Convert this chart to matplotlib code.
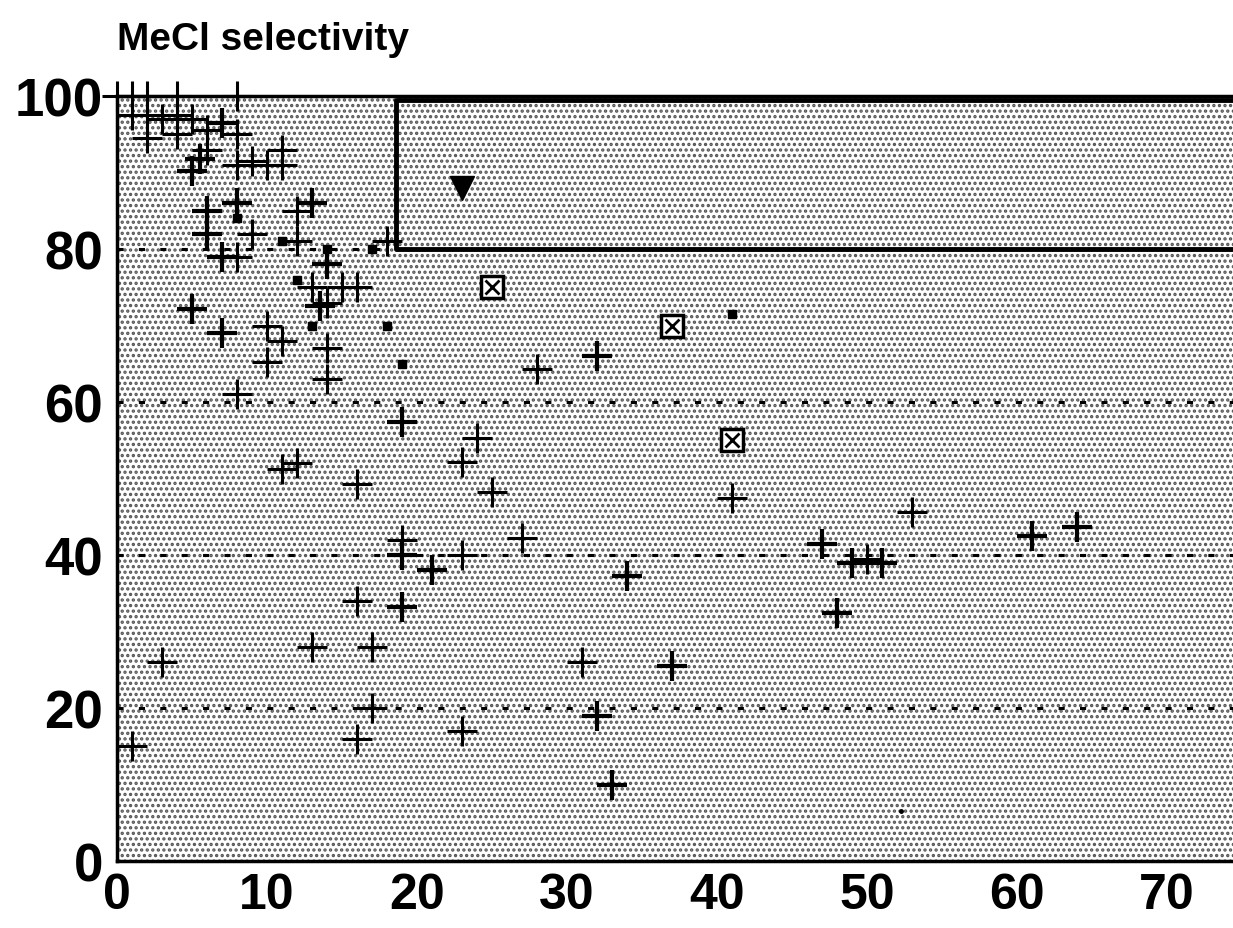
import matplotlib
matplotlib.use('Agg')
import matplotlib.pyplot as plt
from matplotlib.patches import Rectangle

plt.rcParams['font.family'] = ['Liberation Sans', 'DejaVu Sans']
plt.rcParams['font.weight'] = 'bold'
plt.rcParams['hatch.linewidth'] = 1.6

# plain "+" points (x, selectivity)
plain_x = [0, 1, 2, 4, 8, 1, 2, 4, 3, 5, 6, 2, 4, 8, 8, 9, 10, 11, 11, 6,
           12, 12, 9, 8, 18, 13, 15, 16, 14, 10, 11, 10, 14, 14, 8, 11, 12, 16,
           19, 23, 27, 23, 24, 25, 28, 41, 53, 50, 3, 1, 13, 17, 16, 16, 17, 23, 31]
plain_y = [100, 100, 100, 100, 100, 97.5, 97.5, 97.5, 97, 97, 95.5, 94.5, 95, 95, 91, 91.5, 91, 93, 91, 93,
           85, 81, 82, 79, 81, 75, 75, 75, 73, 70, 68, 65.2, 67, 63, 61, 51.2, 52, 49.3,
           42, 40, 42.2, 52.2, 55.3, 48.3, 64.3, 47.5, 45.6, 39.5, 26, 15, 28, 28, 34, 16, 20, 17, 26]

# "+" points printed with the beaded line
bead_x = [5, 5.5, 7, 6, 6, 8, 7, 13, 14, 13.5, 5, 7, 19, 19, 19, 21, 34, 32,
          32, 33, 37, 47, 48, 49, 51, 61, 64]
bead_y = [90.2, 91.8, 96.5, 85, 82, 86, 79, 86, 78, 72.5, 72.2, 69, 57.4, 40, 33.2, 38, 37.2, 66,
          19, 10, 25.5, 41.5, 32.4, 39, 39, 42.5, 43.6]

# small filled dots
dot_x = [8, 11, 17, 14, 12, 13, 18, 19, 41]
dot_y = [84, 81, 80, 80, 76, 70, 70, 65, 71.5]

# boxed crosses
box_x = [25, 37, 41]
box_y = [75, 70, 55]

# triangle
tri_x = [23]
tri_y = [88]

# target region
reg_x = [18.6, 75]
reg_y = [80, 99.5]

xticks = [0, 10, 20, 30, 40, 50, 60, 70]
yticks = [0, 20, 40, 60, 80, 100]
grid_y = [20, 40, 60, 80]

fig = plt.figure(figsize=(12.33, 9.29), dpi=100)
ax = fig.add_axes([117 / 1233, 67 / 929, 1125 / 1233, 765 / 929])
ax.set_xlim(0, 75)
ax.set_ylim(0, 100)

# stippled background
ax.add_patch(Rectangle((0, 0), 1, 1, transform=ax.transAxes, facecolor='white',
                       edgecolor='#555555', linewidth=0, hatch='...', zorder=0))

for gy in grid_y:
    ax.axhline(gy, color='black', lw=2.2, linestyle=(0, (2, 5)), zorder=1)

ax.plot([reg_x[1] + 1, reg_x[0], reg_x[0], reg_x[1] + 1],
        [reg_y[1], reg_y[1], reg_y[0], reg_y[0]], color='black', lw=3.5, zorder=2)

ax.plot(plain_x, plain_y, '+', color='black', ms=22, mew=2.2, clip_on=False, zorder=4)
ax.plot(bead_x, bead_y, '+', color='black', ms=21, mew=3.0, clip_on=False, zorder=4)
ax.plot(dot_x, dot_y, 's', color='black', ms=6, zorder=4)
ax.plot([52.3], [6.6], 'o', color='black', ms=2.5, zorder=4)
ax.plot(box_x, box_y, 's', mfc='white', mec='black', ms=16, mew=2.5, zorder=5)
ax.plot(box_x, box_y, 'x', color='black', ms=10, mew=2, zorder=6)
ax.plot(tri_x, tri_y, 'v', color='black', ms=17, zorder=5)

for side in ['left', 'top', 'bottom']:
    ax.spines[side].set_linewidth(2.5)
ax.spines['right'].set_visible(False)

ax.set_xticks(xticks)
ax.set_yticks(yticks)
ax.tick_params(axis='both', length=0)
ax.tick_params(axis='x', pad=8, labelsize=36)
ax.tick_params(axis='y', pad=10, labelsize=38)

fig.text(117 / 1233, 1 - 50 / 929, 'MeCl selectivity', fontsize=28,
         fontweight='bold', va='baseline')

fig.savefig('out.png', dpi=100)
